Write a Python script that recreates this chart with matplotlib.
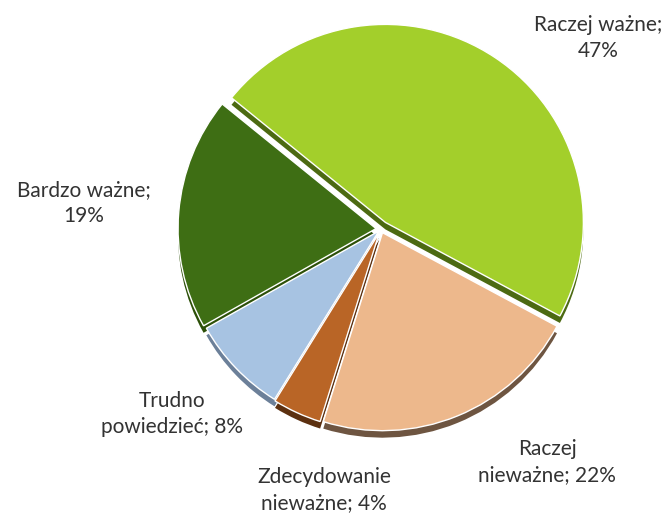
import matplotlib
matplotlib.use("Agg")
import matplotlib.pyplot as plt

# data, clockwise from the upper-left edge
labels = ["Raczej ważne", "Raczej nieważne", "Zdecydowanie nieważne",
          "Trudno powiedzieć", "Bardzo ważne"]
shares = [47, 22, 4, 8, 19]
label_text = ["Raczej ważne;\n47%", "Raczej\nnieważne; 22%", "Zdecydowanie\nnieważne; 4%",
              "Trudno\npowiedzieć; 8%", "Bardzo ważne;\n19%"]
top_colors = ["#A3CF2B", "#EDB88C", "#B96526", "#A7C3E2", "#3E6E14"]
side_colors = ["#4C6A12", "#6E5541", "#5C3010", "#6C8099", "#2C5008"]
explode_frac = [0.04, 0.02, 0.02, 0.015, 0.025]

W, H = 669, 515
fig = plt.figure(figsize=(W / 100, H / 100), dpi=100)
ax = fig.add_axes([0, 0, 1, 1])

cx, cy, r = 381, H - 229, 198
depth = 7
# pie() adds explode in data units, so scale by the radius
explode = [e * r for e in explode_frac]

# darker copy underneath gives the slab thickness
ax.pie(shares, colors=side_colors, startangle=141, counterclock=False,
       explode=explode, radius=r, center=(cx, cy - depth),
       wedgeprops=dict(linewidth=0))
ax.pie(shares, colors=top_colors, startangle=141, counterclock=False,
       explode=explode, radius=r, center=(cx, cy),
       wedgeprops=dict(linewidth=1.0, edgecolor="white"))

# label positions in pixels (x, y from top)
label_pos = [(598, 38), (547, 462), (324, 490), (172, 414), (84, 203)]
for txt, (x, y) in zip(label_text, label_pos):
    ax.text(x, H - y, txt, ha="center", va="center", fontsize=15,
            family="Lato", color="#333333", linespacing=1.35)

ax.set_xlim(0, W)
ax.set_ylim(0, H)
ax.set_aspect("equal")
ax.axis("off")
fig.savefig("out.png", dpi=100)
